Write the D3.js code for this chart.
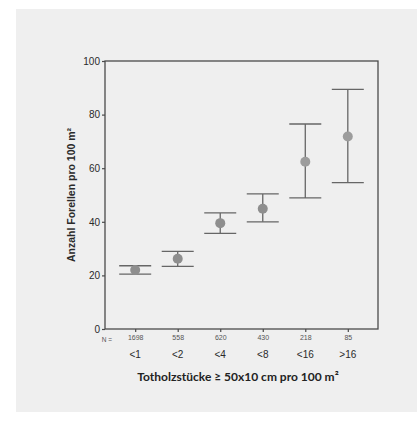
<!DOCTYPE html>
<html>
<head>
<meta charset="utf-8">
<script src="https://cdn.jsdelivr.net/npm/d3@7"></script>
<style>
  body { margin: 0; background: #fff; }
  svg { display: block; }
</style>
</head>
<body>
<div id="chart"></div>
<script>
// categories (dead wood pieces per 100 m2) and sample sizes
const categories = ["<1", "<2", "<4", "<8", "<16", ">16"];
const sampleN = ["1698", "558", "620", "430", "218", "85"];

// trout per 100 m2: mean and error bar limits
const means = [22.0, 26.2, 39.5, 44.9, 62.4, 71.8];
const upper = [23.6, 29.0, 43.3, 50.4, 76.5, 89.4];
const lower = [20.5, 23.4, 35.7, 40.0, 48.9, 54.6];

const yTicks = [0, 20, 40, 60, 80, 100];

var width = 417;
var height = 421;
var plot = { left: 105, top: 61, right: 378, bottom: 329 };

var svg = d3.select("#chart")
  .append("svg")
  .attr("width", width)
  .attr("height", height);

// grey panel behind everything
svg.append("rect")
  .attr("x", 16)
  .attr("y", 9)
  .attr("width", width - 16)
  .attr("height", 412 - 9)
  .attr("fill", "#efefef");

var x = d3.scalePoint()
  .domain(categories)
  .range([plot.left, plot.right])
  .padding(0.71);

var y = d3.scaleLinear()
  .domain([0, 100])
  .range([plot.bottom, plot.top]);

// frame
svg.append("rect")
  .attr("x", plot.left)
  .attr("y", plot.top)
  .attr("width", plot.right - plot.left)
  .attr("height", plot.bottom - plot.top)
  .attr("fill", "none")
  .attr("stroke", "#4a4a4a")
  .attr("stroke-width", 1.3);

// y axis
var yAxis = svg.append("g")
  .attr("transform", "translate(" + plot.left + ",0)")
  .call(d3.axisLeft(y).tickValues(yTicks).tickSize(3).tickPadding(2));
yAxis.select(".domain").remove();
yAxis.selectAll("line").attr("stroke", "#4a4a4a").attr("stroke-width", 1.2);
yAxis.selectAll("text")
  .attr("fill", "#2a2a2a")
  .style("font-family", "'Liberation Sans', Arial, sans-serif")
  .style("font-size", "10px");

// x axis ticks with N values
var xAxis = svg.append("g")
  .attr("transform", "translate(0," + plot.bottom + ")")
  .call(d3.axisBottom(x).tickSize(3).tickPadding(3).tickFormat((d, i) => sampleN[i]));
xAxis.select(".domain").remove();
xAxis.selectAll("line").attr("stroke", "#4a4a4a").attr("stroke-width", 1.2);
xAxis.selectAll("text")
  .attr("fill", "#555")
  .style("font-family", "'Liberation Sans', Arial, sans-serif")
  .style("font-size", "7px");

svg.append("text")
  .attr("x", 112)
  .attr("y", 342)
  .attr("text-anchor", "end")
  .attr("fill", "#555")
  .style("font-family", "'Liberation Sans', Arial, sans-serif")
  .style("font-size", "6.5px")
  .text("N =");

// category labels
svg.selectAll(".cat-label")
  .data(categories)
  .enter()
  .append("text")
  .attr("class", "cat-label")
  .attr("x", d => x(d))
  .attr("y", 358)
  .attr("text-anchor", "middle")
  .attr("fill", "#2a2a2a")
  .style("font-family", "'Liberation Sans', Arial, sans-serif")
  .style("font-size", "10px")
  .text(d => d);

// error bars
var bars = svg.selectAll(".err")
  .data(categories)
  .enter()
  .append("g")
  .attr("class", "err")
  .attr("stroke", "#666")
  .attr("stroke-width", 1.3);

bars.append("line")
  .attr("x1", d => x(d))
  .attr("x2", d => x(d))
  .attr("y1", (d, i) => y(upper[i]))
  .attr("y2", (d, i) => y(lower[i]));

bars.append("line")
  .attr("x1", d => x(d) - 16)
  .attr("x2", d => x(d) + 16)
  .attr("y1", (d, i) => y(upper[i]))
  .attr("y2", (d, i) => y(upper[i]));

bars.append("line")
  .attr("x1", d => x(d) - 16)
  .attr("x2", d => x(d) + 16)
  .attr("y1", (d, i) => y(lower[i]))
  .attr("y2", (d, i) => y(lower[i]));

// mean points
svg.selectAll(".mean")
  .data(categories)
  .enter()
  .append("circle")
  .attr("class", "mean")
  .attr("cx", d => x(d))
  .attr("cy", (d, i) => y(means[i]))
  .attr("r", 5)
  .attr("fill", (d, i) => i < 4 ? "#8e8e8e" : "#9c9c9c");

// axis titles
svg.append("text")
  .attr("transform", "translate(75," + ((plot.top + plot.bottom) / 2) + ") rotate(-90)")
  .attr("text-anchor", "middle")
  .attr("fill", "#2a2a2a")
  .style("font-family", "'Liberation Sans', Arial, sans-serif")
  .style("font-weight", "bold")
  .style("font-size", "10.5px")
  .text("Anzahl Forellen pro 100 m²");

svg.append("text")
  .attr("x", 238)
  .attr("y", 381)
  .attr("text-anchor", "middle")
  .attr("fill", "#222")
  .style("font-family", "Lato, 'Open Sans', sans-serif")
  .style("font-weight", "bold")
  .style("font-size", "12px")
  .text("Totholzstücke ≥ 50x10 cm pro 100 m²");
</script>
</body>
</html>
